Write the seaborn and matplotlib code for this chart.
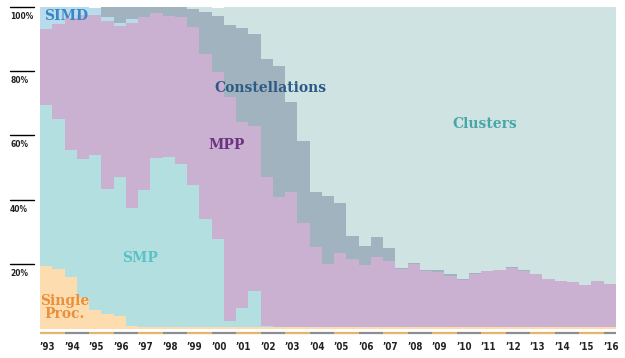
import numpy as np
import pandas as pd
import matplotlib
matplotlib.use('Agg')
import matplotlib.pyplot as plt
import matplotlib.transforms as mtransforms
import seaborn as sns

# TOP500 lists, June 1993 .. June 2016 (two lists a year), share of systems in %
n_lists = 47
single_proc = [19.4, 18.4, 15.9, 9.5, 5.8, 4.4, 3.9, 0.8] + [0.4] * 39
smp = [49.9, 46.8, 39.4, 43.0, 48.2, 38.9, 43.2, 36.7, 42.5, 52.4,
       52.9, 50.6, 44.3, 33.6, 27.4, 2.0, 6.1, 11.2, 0.5] + [0.0] * 28
mpp = [23.7, 29.3, 41.2, 45.0, 43.5, 52.1, 46.7, 57.3, 53.8, 45.1,
       43.9, 45.7, 49.0, 51.3, 51.8, 69.5, 57.5, 51.2, 46.2, 40.5,
       42.0, 32.4, 25.0, 19.6, 23.1, 21.1, 19.3, 21.9, 20.6, 18.0,
       19.5, 17.4, 17.2, 16.0, 14.8, 16.5, 17.4, 17.7, 18.4, 17.5,
       16.5, 14.9, 14.3, 13.9, 13.1, 14.3, 13.4]
simd = [7.0, 5.5, 3.5, 2.5, 2.1, 1.3, 1.0, 1.4] + [0.0] * 39
constellations = [0.0, 0.0, 0.0, 0.0, 0.0, 3.3, 5.2, 3.8, 3.3, 2.1,
                  2.8, 3.5, 5.5, 13.1, 17.6, 22.5, 29.4, 28.7, 36.7, 40.6,
                  27.9, 25.4, 17.0, 21.1, 15.6, 7.2, 6.0, 6.2, 3.9, 0.5,
                  0.3, 0.5, 0.5, 0.4, 0.3, 0.3, 0.2, 0.2, 0.2, 0.2,
                  0.1, 0.0, 0.0, 0.0, 0.0, 0.0, 0.0]
clusters = [0.0] * 12 + [0.8, 1.6, 2.2, 5.6, 6.6, 8.5, 16.2, 18.5,
                         29.7, 41.8, 57.6, 58.9, 60.9, 71.3, 74.3, 71.5, 75.1, 81.1,
                         79.8, 81.7, 81.9, 83.2, 84.5, 82.8, 82.0, 81.7, 81.0, 81.9,
                         83.0, 84.7, 85.3, 85.7, 86.5, 85.3, 86.2]
year_labels = ["’93", "’94", "’95", "’96", "’97", "’98", "’99", "’00",
               "’01", "’02", "’03", "’04", "’05", "’06", "’07", "’08",
               "’09", "’10", "’11", "’12", "’13", "’14", "’15", "’16"]

# top of the stack first (seaborn puts the first hue level on top)
arch_order = ['Clusters', 'Constellations', 'SIMD', 'MPP', 'SMP', 'Single Proc.']
colors = {'Clusters': '#cfe3e3', 'Constellations': '#a0b3be', 'SIMD': '#b9dcec',
          'MPP': '#cab0d1', 'SMP': '#b3dfe0', 'Single Proc.': '#fddcb0'}
series = {'Clusters': clusters, 'Constellations': constellations, 'SIMD': simd,
          'MPP': mpp, 'SMP': smp, 'Single Proc.': single_proc}

rows = []
for arch in arch_order:
    for i, v in enumerate(series[arch]):
        rows.append({'pos': i + 0.5, 'arch': arch, 'share': v})
df = pd.DataFrame(rows)

sns.set_style('white')
fig = plt.figure(figsize=(6.25, 3.58), dpi=100)
ax = fig.add_axes([0.064, 0.0824, 0.9216, 0.8994])

sns.histplot(data=df, x='pos', weights='share', hue='arch', hue_order=arch_order,
             palette=colors, multiple='stack', element='step',
             bins=n_lists, binrange=(0, n_lists), alpha=1, linewidth=0,
             legend=False, ax=ax)

ax.set_xlim(0, n_lists)
ax.set_ylim(0, 100)
ax.set_xlabel('')
ax.set_ylabel('')
ax.set_xticks([])
ax.set_yticks([])
sns.despine(ax=ax, left=True, bottom=True)

# y labels with short rules
trans = mtransforms.blended_transform_factory(ax.transAxes, ax.transData)
for v in [20, 40, 60, 80, 100]:
    ax.plot([-0.052, -0.010], [v, v], transform=trans, color='black', lw=1,
            clip_on=False)
    ax.text(-0.052, v - 3.0, f'{v}%', transform=trans, ha='left', va='center',
            fontsize=6, fontweight='bold', color='#222222', fontstretch='condensed')

# year stripe and labels
for k, lab in enumerate(year_labels):
    x0 = 2 * k
    x1 = min(2 * k + 2, n_lists)
    c = '#e6b46a' if k % 2 == 0 else '#8b8f94'
    ax.plot([x0, x1], [-1.4, -1.4], color=c, lw=1.6, solid_capstyle='butt',
            clip_on=False)
    ax.text(x0 + 0.6, -5.7, lab, ha='center', va='center', fontsize=7,
            fontweight='bold', color='#222222', fontstretch='condensed')

# series labels
lab_kw = dict(ha='center', va='center', fontsize=10, fontweight='bold',
              family='DejaVu Serif')
ax.text(2.1, 97.2, 'SIMD', color='#3b86c6', **lab_kw)
ax.text(18.8, 74.6, 'Constellations', color='#2e5a86', **lab_kw)
ax.text(36.3, 63.4, 'Clusters', color='#48a6a8', **lab_kw)
ax.text(15.2, 56.9, 'MPP', color='#6a3482', **lab_kw)
ax.text(8.2, 21.9, 'SMP', color='#5cc2c4', **lab_kw)
ax.text(2.0, 6.4, 'Single\nProc.', color='#e8903a', linespacing=0.9, **lab_kw)

fig.savefig('out.png', dpi=100)
